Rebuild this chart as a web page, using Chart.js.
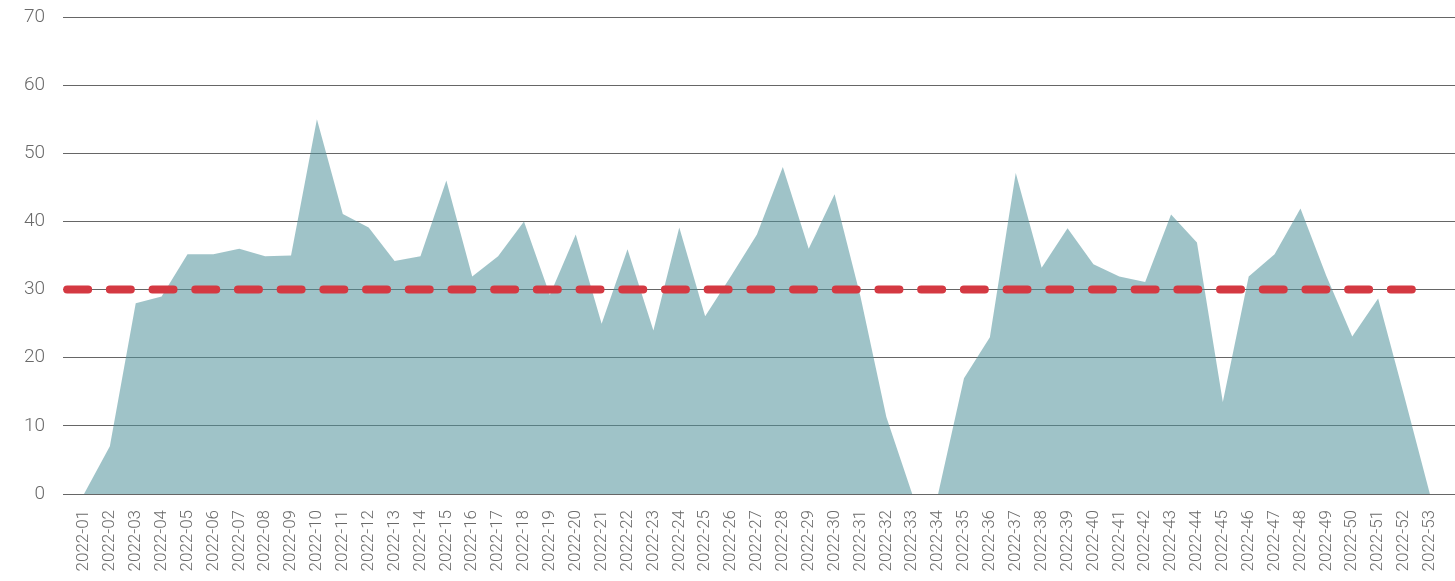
<!DOCTYPE html>
<html>
<head>
<meta charset="utf-8">
<script src="https://cdn.jsdelivr.net/npm/chart.js@4"></script>
<style>
html,body{margin:0;padding:0;background:#fff;}
canvas{display:block;}
</style>
</head>
<body>
<canvas id="c" width="1455" height="581"></canvas>
<script>
const categories = ["2022-01","2022-02","2022-03","2022-04","2022-05","2022-06","2022-07","2022-08","2022-09","2022-10",
"2022-11","2022-12","2022-13","2022-14","2022-15","2022-16","2022-17","2022-18","2022-19","2022-20",
"2022-21","2022-22","2022-23","2022-24","2022-25","2022-26","2022-27","2022-28","2022-29","2022-30",
"2022-31","2022-32","2022-33","2022-34","2022-35","2022-36","2022-37","2022-38","2022-39","2022-40",
"2022-41","2022-42","2022-43","2022-44","2022-45","2022-46","2022-47","2022-48","2022-49","2022-50",
"2022-51","2022-52","2022-53"];
const values = [0,7,28,29,35.2,35.2,36,34.9,35,55,
41.1,39.1,34.2,34.9,46,31.9,34.9,40,29.2,38.1,
25,35.9,24,39.1,26.1,32,38.1,48,36,44,
29,11.3,0,0,17,23,47.1,33.2,39,33.7,
31.9,31.1,41,36.9,13.5,31.9,35.2,41.9,32,23.1,
28.7,14.5,0];
const threshold = 30;
const yTicks = [0,10,20,30,40,50,60,70];

const xMin = -0.81, xMax = 52.97;
const font = "Roboto";

new Chart(document.getElementById('c'), {
  type: 'line',
  data: {
    datasets: [
      {
        data: [{x: -0.65, y: threshold}, {x: categories.length - 1, y: threshold}],
        borderColor: 'rgb(212,57,66)',
        borderWidth: 8,
        borderDash: [21, 21.7],
        borderCapStyle: 'round',
        pointRadius: 0,
        fill: false,
        order: 0
      },
      {
        data: values.map((v, i) => ({x: i, y: v})),
        backgroundColor: 'rgba(80,145,155,0.55)',
        borderWidth: 0,
        borderColor: 'rgba(0,0,0,0)',
        pointRadius: 0,
        tension: 0,
        fill: 'origin',
        order: 1
      }
    ]
  },
  options: {
    responsive: false,
    animation: false,
    devicePixelRatio: 1,
    layout: {padding: {top: 17, right: 0, left: 0, bottom: 0}},
    plugins: {legend: {display: false}, tooltip: {enabled: false}},
    scales: {
      x: {
        type: 'linear',
        min: xMin,
        max: xMax,
        afterBuildTicks: (s) => { s.ticks = categories.map((c, i) => ({value: i})); },
        afterFit: (s) => { s.height = 87; s.paddingLeft = 0; s.paddingRight = 0; },
        grid: {display: false, drawTicks: false},
        border: {display: false},
        ticks: {
          autoSkip: false,
          minRotation: 90,
          maxRotation: 90,
          padding: 16,
          color: '#6a6a6a',
          font: {family: font, size: 17, weight: 300},
          callback: (v) => categories[v] ?? ''
        }
      },
      y: {
        min: 0,
        max: 70,
        afterBuildTicks: (s) => { s.ticks = yTicks.map(v => ({value: v})); },
        afterFit: (s) => { s.width = 63; s.paddingTop = 0; s.paddingBottom = 0; },
        grid: {color: '#666', lineWidth: 1, drawTicks: false},
        border: {display: false},
        ticks: {
          padding: 18,
          color: '#6a6a6a',
          font: {family: font, size: 19, weight: 300}
        }
      }
    }
  }
});
</script>
</body>
</html>
